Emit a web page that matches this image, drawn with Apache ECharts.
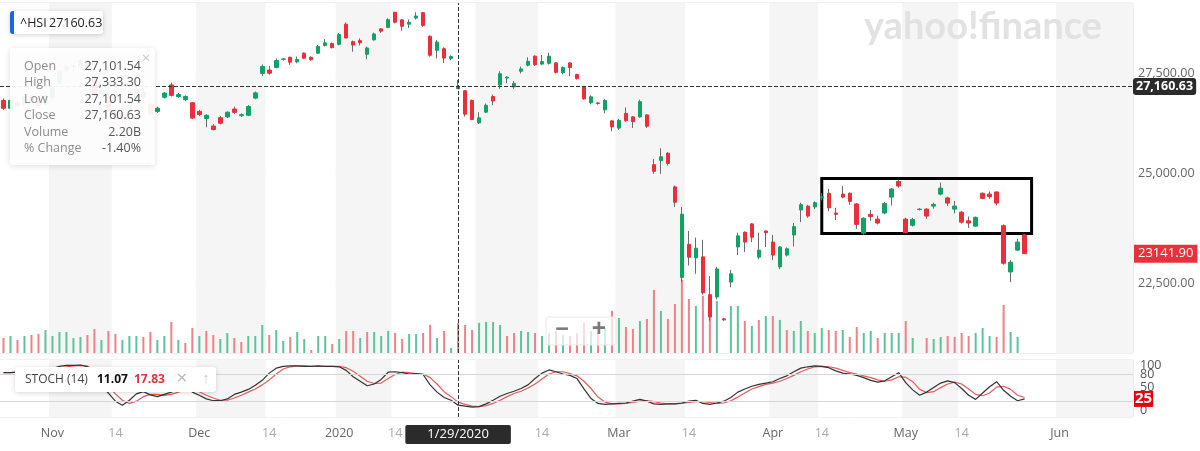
<!DOCTYPE html>
<html>
<head>
<meta charset="utf-8">
<title>^HSI</title>
<script src="https://cdn.jsdelivr.net/npm/echarts@6/dist/echarts.min.js"></script>
<style>
  html, body { margin: 0; padding: 0; background: #fff; }
  #chart { width: 1200px; height: 451px; }
</style>
</head>
<body>
<div id="chart"></div>
<script>
// trading days (HK) shown on the chart, then a few empty future days
var dates = [
  '2019-10-23','2019-10-24','2019-10-25','2019-10-28','2019-10-29','2019-10-30','2019-10-31',
  '2019-11-01','2019-11-04','2019-11-05','2019-11-06','2019-11-07','2019-11-08','2019-11-11','2019-11-12','2019-11-13','2019-11-14',
  '2019-11-15','2019-11-18','2019-11-19','2019-11-20','2019-11-21','2019-11-22','2019-11-25','2019-11-26','2019-11-27','2019-11-28','2019-11-29',
  '2019-12-02','2019-12-03','2019-12-04','2019-12-05','2019-12-06','2019-12-09','2019-12-10','2019-12-11','2019-12-12','2019-12-13',
  '2019-12-16','2019-12-17','2019-12-18','2019-12-19','2019-12-20','2019-12-23','2019-12-24','2019-12-27','2019-12-30','2019-12-31',
  '2020-01-02','2020-01-03','2020-01-06','2020-01-07','2020-01-08','2020-01-09','2020-01-10','2020-01-13','2020-01-14','2020-01-15',
  '2020-01-16','2020-01-17','2020-01-20','2020-01-21','2020-01-22','2020-01-23','2020-01-24','2020-01-29','2020-01-30','2020-01-31',
  '2020-02-03','2020-02-04','2020-02-05','2020-02-06','2020-02-07','2020-02-10','2020-02-11','2020-02-12','2020-02-13','2020-02-14',
  '2020-02-17','2020-02-18','2020-02-19','2020-02-20','2020-02-21','2020-02-24','2020-02-25','2020-02-26','2020-02-27','2020-02-28',
  '2020-03-02','2020-03-03','2020-03-04','2020-03-05','2020-03-06','2020-03-09','2020-03-10','2020-03-11','2020-03-12','2020-03-13',
  '2020-03-16','2020-03-17','2020-03-18','2020-03-19','2020-03-20','2020-03-23','2020-03-24','2020-03-25','2020-03-26','2020-03-27',
  '2020-03-30','2020-03-31',
  '2020-04-01','2020-04-02','2020-04-03','2020-04-06','2020-04-07','2020-04-08','2020-04-09','2020-04-14','2020-04-15','2020-04-16',
  '2020-04-17','2020-04-20','2020-04-21','2020-04-22','2020-04-23','2020-04-24','2020-04-27','2020-04-28','2020-04-29',
  '2020-05-04','2020-05-05','2020-05-06','2020-05-07','2020-05-08','2020-05-11','2020-05-12','2020-05-13','2020-05-14','2020-05-15',
  '2020-05-18','2020-05-19','2020-05-20','2020-05-21','2020-05-22','2020-05-25','2020-05-26','2020-05-27',
  '2020-05-28','2020-05-29','2020-05-30','2020-05-31','2020-06-01','2020-06-02','2020-06-03','2020-06-04','2020-06-05',
  '2020-06-06','2020-06-07','2020-06-08','2020-06-09','2020-06-10','2020-06-11'
];

var opens = [
  26800,26600,26750,26700,26900,26760,26700,26880,27250,27600,27700,27700,27850,27400,26950,26900,26550,26350,26500,26800,
  27000,26700,26520,26880,27200,26900,26820,26740,26520,26340,26150,26360,26380,26580,26410,26420,26860,27500,27590,27660,
  27880,27930,27810,28040,27930,28040,28250,28300,28280,28830,28350,28380,28010,28400,28700,28740,29160,28950,28830,29000,
  29150,28500,28120,28160,27900,27101.54,27050,26800,26230,26500,26900,27200,27380,27150,27560,27720,27960,27750,27770,27780,
  27520,27780,27470,27150,26740,26735,26560,26280,26100,26470,26380,26380,26430,25200,25300,25480,24670,22620,23350,23050,
  23070,22250,22200,21740,22520,23290,23620,23810,23065,23650,23400,22850,23110,23560,24130,24220,24200,24410,24520,24060,
  24500,24520,24270,23600,24030,23920,24060,24430,24800,23920,23780,24140,24150,24220,24500,24410,24150,24080,23880,23760,
  24520,24500,24550,23770,22740,23220,23560
];
var closes = [
  26600,26800,26667,26891,26786,26667,26906,27100,27547,27680,27688,27847,27651,26926,27065,26571,26323,26326,26681,27093,
  26889,26467,26600,26990,26930,26950,26900,26350,26440,26420,26062,26220,26498,26494,26436,26645,26994,27688,27508,27843,
  27884,27800,27871,27906,27864,28225,28319,28189,28543,28452,28260,28322,28180,28561,28638,28955,28885,28773,28883,29056,
  28795,27985,28341,27909,27950,27160.63,26449,26313,26356,26675,26786,27493,27404,27241,27620,27823,27730,27815,27959,27530,
  27656,27655,27370,26840,26893,26720,26800,26129,26291,26285,26260,26767,26146,25040,25392,25231,24309,24032,23063,23263,
  22291,21780,22805,21720,22700,23540,23400,23510,23220,23610,23110,23290,23250,23749,24253,23990,24300,24435,24180,24030,
  24430,24330,23800,23940,23977,23831,24280,24620,24690,23613,23910,24150,23990,24260,24640,24290,24220,23850,23830,23960,
  24400,24440,24290,22930,22952,23400,23141.90
];
var lows = [
  26560,26580,26600,26680,26740,26600,26680,26800,27230,27520,27550,27650,27600,26900,26850,26500,26300,26200,26450,26780,
  26850,26400,26480,26850,26900,26870,26780,26330,26400,26120,26040,26190,26350,26460,26380,26400,26830,27430,27470,27640,
  27840,27730,27770,27880,27840,28020,28220,28170,28250,28440,28080,28250,27880,28380,28590,28720,28850,28650,28720,28960,
  28760,27950,27900,27780,27850,27101.54,26390,26300,26200,26480,26680,27100,27250,27100,27500,27690,27700,27720,27740,27500,
  27480,27430,27340,26820,26700,26690,26470,26020,26050,26260,26100,26360,26100,24980,24980,25180,24200,22520,22880,22700,
  22250,21700,22150,21700,22410,23110,23180,23400,23020,23290,23000,22800,23080,23300,23850,23950,24150,24350,24100,23900,
  24400,24250,23700,23560,23880,23800,24030,24230,24650,23600,23750,24120,23930,24160,24470,24220,24050,23820,23720,23740,
  24380,24390,24240,22900,22520,23200,23130
];
var highs = [
  26850,26830,26800,26920,26950,26800,26950,27150,27600,27720,27750,27880,27900,27450,27150,26950,26600,26450,26750,27150,
  27100,26750,26640,27020,27260,26990,26930,26760,26560,26450,26200,26400,26520,26640,26470,26680,27030,27740,27700,27900,
  27910,27950,27950,28060,27960,28260,28420,28330,28590,28880,28380,28440,28220,28600,28720,28990,29174,28970,28960,29160,
  29170,28520,28400,28200,27980,27333.30,27060,26820,26500,26720,26950,27560,27430,27300,27680,27930,27980,27990,28050,27800,
  27690,27800,27490,27160,26930,26760,26830,26300,26330,26620,26400,26820,26450,25340,25600,25500,24700,24200,23650,23500,
  23450,22650,22850,21760,22780,23610,23640,23830,23610,23660,23560,23310,23280,23830,24300,24250,24330,24520,24620,24180,
  24690,24540,24290,23960,24130,24000,24320,24640,24830,23950,23950,24170,24170,24300,24770,24440,24340,24100,23980,23980,
  24540,24560,24560,23800,23000,23470,23580
];
// volume in billions
var volumes = [
  1.10,1.25,0.96,1.25,1.32,1.40,1.69,1.25,1.54,1.54,1.10,1.18,1.32,1.76,0.96,1.62,1.40,0.96,1.25,1.25,
  1.18,1.54,0.96,1.25,2.28,0.96,0.74,1.84,1.25,1.62,1.32,1.03,1.47,1.10,0.81,1.25,1.25,2.06,1.32,1.69,
  0.88,1.18,1.54,1.03,0.22,1.25,1.25,0.66,1.03,1.62,1.62,1.10,1.54,1.54,1.25,1.62,1.47,1.03,1.40,1.40,
  1.47,2.06,1.10,1.62,0.37,2.20,2.06,1.69,2.21,2.28,2.28,2.06,1.25,1.47,1.62,1.54,1.47,1.25,1.47,1.62,
  1.32,1.25,1.47,2.21,1.62,1.47,1.84,3.09,2.57,1.91,1.76,2.35,2.50,4.63,3.09,2.50,3.60,5.37,3.97,3.46,
  4.19,4.26,3.82,0,3.46,3.46,2.35,1.99,2.43,2.72,2.72,2.43,1.69,1.62,2.35,1.62,1.47,1.84,1.69,1.62,
  1.69,1.18,1.91,1.47,1.62,1.10,1.47,1.47,1.47,2.35,1.10,0,1.10,1.03,1.18,1.25,1.18,1.47,1.25,1.47,
  1.84,1.25,1.18,3.53,1.54,1.18,0
];
// STOCH (14): %K (dark) and %D (red)
var stochK = [
  83,83,84,86,85,84,88,92,97,99, 99,100,96,70,52,38,20,11,22,36, 41,34,30,35,40,46,50,40,33,25,
  21,21,25,35,40,46,55,66,82,93, 97,98,98,97,97,98,97,97,96,88, 74,64,54,58,68,84,85,83,80,81,
  79,56,40,28,22,11.07,9,7,8,14, 22,31,37,42,48,56,70,82,89,85, 80,77,70,47,26,15,13,14,15,16,
  20,24,20,14,13,14,14,16,20,22, 15,13,16,20,28,40,47,53,57,60, 63,70,76,85,93,96,98,97,94,87,
  82,80,77,72,66,62,65,74,83,61, 45,33,40,50,60,65,61,48,33,24, 38,52,63,44,31,21,25
];
var stochD = [
  83,83,84,85,85,85,86,88,92,96, 98,99,98,88,72,53,36,22,15,20, 30,35,35,33,35,40,45,45,41,33,
  27,22,22,27,33,40,47,56,67,80, 91,96,98,98,97,97,97,97,97,94, 86,75,64,59,60,70,79,84,83,81,
  80,72,58,41,30,17.83,13,9,8,10, 15,22,30,37,42,49,58,69,80,85, 85,81,76,64,48,29,18,14,14,15,
  17,20,21,19,16,14,14,15,17,19, 19,17,15,16,21,29,38,47,52,57, 60,64,70,77,85,91,96,97,96,93,
  88,83,80,76,72,67,64,67,74,73, 63,46,39,41,50,58,62,58,47,35, 32,38,51,53,46,33,28
];

var tickDates = ['2019-11-01','2019-11-14','2019-12-02','2019-12-16','2020-01-02','2020-01-14','2020-02-03','2020-02-14',
  '2020-03-02','2020-03-16','2020-04-01','2020-04-14','2020-05-04','2020-05-14','2020-06-01'];
var tickNames = ['Nov','14','Dec','14','2020','14','Feb','14','Mar','14','Apr','14','May','14','Jun'];
var priceTicks = [22500, 25000, 27500];
var stochTicks = [0, 50, 100];
var stochTicks2 = [80];   // sits on top of 100, so it goes on its own axis
var stochBands = [20, 80];

var crossDate = '2020-01-29';
var crossPrice = 27160.63;
var pctChange = '-1.40%';
// hand drawn box on the chart
var boxFrom = '2020-04-14', boxTo = '2020-05-28', boxTop = 24870, boxBottom = 23590;

var UP = '#11a265', DOWN = '#ea2f3b';
var VOL_UP = '#5cc49a', VOL_DOWN = '#f08089';
var FONT = 'Open Sans';

function fmt(n) {
  return n.toLocaleString('en-US', { minimumFractionDigits: 2, maximumFractionDigits: 2 });
}
function isTick(index, value) {
  return tickDates.indexOf(value) >= 0;
}

var wickData = [], bodyData = [], volData = [];
for (var i = 0; i < closes.length; i++) {
  wickData.push([opens[i], closes[i], lows[i], highs[i]]);
  bodyData.push([opens[i], closes[i], Math.min(opens[i], closes[i]), Math.max(opens[i], closes[i])]);
  // volume is coloured by the change from the previous close
  var up = i === 0 ? closes[i] >= opens[i] : closes[i] >= closes[i - 1];
  volData.push({ value: volumes[i], itemStyle: { color: up ? VOL_UP : VOL_DOWN } });
}
var last = closes.length - 1;
var ci = dates.indexOf(crossDate);

var splitArea = { show: true, interval: isTick, areaStyle: { color: ['#ffffff', '#f5f5f5'] } };
var pointerLine = { type: 'dashed', color: '#333', width: 1 };

var rows = [
  ['Open', fmt(opens[ci])],
  ['High', fmt(highs[ci])],
  ['Low', fmt(lows[ci])],
  ['Close', fmt(closes[ci])],
  ['Volume', volumes[ci].toFixed(2) + 'B'],
  ['% Change', pctChange]
];

var graphics = [
  // watermark
  { type: 'text', x: 864, y: 27, z: 1, silent: true,
    style: { text: 'yahoo!finance', fill: '#e2e2e2', fontSize: 38, fontWeight: 'bold', fontFamily: 'Lato', verticalAlign: 'middle' } },
  // ticker chip
  { type: 'rect', z: 100, shape: { x: 10, y: 11, width: 93, height: 23, r: 3 },
    style: { fill: '#fff', shadowBlur: 5, shadowColor: 'rgba(0,0,0,0.18)', shadowOffsetY: 1 } },
  { type: 'rect', z: 101, shape: { x: 10, y: 11, width: 4, height: 23, r: [3, 0, 0, 3] }, style: { fill: '#1967e6' } },
  { type: 'text', z: 101, x: 20, y: 23, style: { text: '^HSI', fill: '#222', fontSize: 12.5, fontFamily: FONT, verticalAlign: 'middle' } },
  { type: 'text', z: 101, x: 49, y: 23, style: { text: closes[ci].toFixed(2), fill: '#222', fontSize: 12.5, fontFamily: FONT, verticalAlign: 'middle' } },
  // OHLC box
  { type: 'rect', z: 100, shape: { x: 10, y: 48, width: 145, height: 117, r: 3 },
    style: { fill: 'rgba(255,255,255,0.93)', shadowBlur: 6, shadowColor: 'rgba(0,0,0,0.15)', shadowOffsetY: 1 } },
  { type: 'text', z: 101, x: 146, y: 59, style: { text: '\u00d7', fill: '#c8c8c8', fontSize: 15, fontFamily: FONT, align: 'center', verticalAlign: 'middle' } },
  // zoom buttons
  { type: 'rect', z: 100, shape: { x: 546, y: 317, width: 70, height: 28, r: 2 },
    style: { fill: 'rgba(255,255,255,0.72)', stroke: '#e8e8e8', lineWidth: 1 } },
  { type: 'text', z: 101, x: 562, y: 330, style: { text: '\u2212', fill: '#7a7a7a', fontSize: 24, fontWeight: 'bold', fontFamily: FONT, align: 'center', verticalAlign: 'middle' } },
  { type: 'text', z: 101, x: 599, y: 330, style: { text: '+', fill: '#7a7a7a', fontSize: 25, fontWeight: 'bold', fontFamily: FONT, align: 'center', verticalAlign: 'middle' } },
  // STOCH legend
  { type: 'rect', z: 100, shape: { x: 15, y: 367, width: 201, height: 25, r: 3 },
    style: { fill: '#fff', shadowBlur: 5, shadowColor: 'rgba(0,0,0,0.16)', shadowOffsetY: 1 } },
  { type: 'text', z: 101, x: 25, y: 380, style: { text: 'STOCH (14)', fill: '#444', fontSize: 12, fontFamily: FONT, verticalAlign: 'middle' } },
  { type: 'text', z: 101, x: 97, y: 380, style: { text: stochK[ci].toFixed(2), fill: '#111', fontSize: 12, fontWeight: 'bold', fontFamily: FONT, verticalAlign: 'middle' } },
  { type: 'text', z: 101, x: 134, y: 380, style: { text: stochD[ci].toFixed(2), fill: '#e0313c', fontSize: 12, fontWeight: 'bold', fontFamily: FONT, verticalAlign: 'middle' } },
  { type: 'text', z: 101, x: 182, y: 379, style: { text: '\u00d7', fill: '#b5b5b5', fontSize: 19, fontFamily: FONT, align: 'center', verticalAlign: 'middle' } },
  { type: 'text', z: 101, x: 206, y: 379, style: { text: '\u2191', fill: '#cfcfcf', fontSize: 15, fontFamily: FONT, align: 'center', verticalAlign: 'middle' } }
];
for (var r = 0; r < rows.length; r++) {
  var ry = 66 + r * 16.5;
  graphics.push({ type: 'text', z: 101, x: 24, y: ry, style: { text: rows[r][0], fill: '#8c8c8c', fontSize: 12.5, fontFamily: FONT, verticalAlign: 'middle' } });
  graphics.push({ type: 'text', z: 101, x: 141, y: ry, style: { text: rows[r][1], fill: '#555', fontSize: 12.5, fontFamily: FONT, align: 'right', verticalAlign: 'middle' } });
}

function stochAxis(ticks) {
  return { type: 'value', gridIndex: 1, position: 'right', min: -15, max: 111,
    axisLine: { show: false }, axisTick: { show: false },
    axisLabel: { customValues: ticks, hideOverlap: false, showMinLabel: true, showMaxLabel: true,
      color: '#555', fontSize: 12.5, margin: 7 },
    splitLine: { show: false } };
}

var chart = echarts.init(document.getElementById('chart'));
chart.setOption({
  animation: false,
  backgroundColor: '#fff',
  textStyle: { fontFamily: FONT },
  grid: [
    { left: -2, right: 67, top: 3, height: 350, show: true, borderColor: '#e2e2e2', borderWidth: 1, backgroundColor: 'transparent' },
    { left: -2, right: 67, top: 360, height: 57, show: true, borderColor: '#e2e2e2', borderWidth: 1, backgroundColor: 'transparent' }
  ],
  xAxis: [
    { type: 'category', gridIndex: 0, data: dates, boundaryGap: true,
      axisLine: { show: false }, axisTick: { show: false }, axisLabel: { show: false },
      splitArea: splitArea,
      axisPointer: { show: true, value: crossDate, status: 'show', type: 'line', triggerTooltip: false,
        lineStyle: pointerLine, label: { show: false } } },
    { type: 'category', gridIndex: 1, data: dates, boundaryGap: true,
      axisLine: { show: false }, axisTick: { show: false },
      axisLabel: { interval: isTick, hideOverlap: false, margin: 10,
        formatter: function (v) {
          var k = tickDates.indexOf(v);
          if (k < 0) return '';
          return tickNames[k] === '14' ? '{d|14}' : '{m|' + tickNames[k] + '}';
        },
        rich: { m: { color: '#666', fontSize: 12.5, fontFamily: FONT }, d: { color: '#aaa', fontSize: 12.5, fontFamily: FONT } } },
      splitArea: splitArea,
      axisPointer: { show: true, value: crossDate, status: 'show', type: 'line', triggerTooltip: false,
        lineStyle: pointerLine,
        label: { show: true, margin: 8, backgroundColor: '#2b2b2b', color: '#fff', fontSize: 13, fontFamily: FONT,
          padding: [3, 22, 3, 22], borderRadius: 2, shadowBlur: 0,
          formatter: function (p) { var d = p.value.split('-'); return (+d[1]) + '/' + (+d[2]) + '/' + d[0]; } } } }
  ],
  yAxis: [
    { type: 'log', logBase: 10, gridIndex: 0, position: 'right', min: 21041, max: 29421,
      axisLine: { show: false }, axisTick: { show: false, customValues: priceTicks },
      axisLabel: { customValues: priceTicks, formatter: function (v) { return fmt(v); }, color: '#666', fontSize: 12.5, margin: 5 },
      splitLine: { show: true, lineStyle: { color: '#ebebeb' } },
      axisPointer: { show: true, value: crossPrice, status: 'show', type: 'line', triggerTooltip: false,
        lineStyle: pointerLine,
        label: { show: true, margin: 0, backgroundColor: '#2b2b2b', color: '#fff', fontSize: 12.5, fontWeight: 'bold',
          padding: [2, 3, 2, 3], shadowBlur: 0, formatter: function (p) { return fmt(+p.value); } } } },
    { type: 'value', gridIndex: 0, min: 0, max: 25.7, show: false, splitLine: { show: false } },
    stochAxis(stochTicks),
    stochAxis(stochTicks2)
  ],
  series: [
    { name: 'vol', type: 'bar', xAxisIndex: 0, yAxisIndex: 1, data: volData, barWidth: 2, z: 1, silent: true },
    { name: 'wick', type: 'candlestick', xAxisIndex: 0, yAxisIndex: 0, data: wickData, barWidth: 1, z: 3, silent: true,
      itemStyle: { color: '#6a6a6a', color0: '#6a6a6a', borderColor: '#6a6a6a', borderColor0: '#6a6a6a', borderColorDoji: '#6a6a6a', borderWidth: 1 } },
    { name: '^HSI', type: 'candlestick', xAxisIndex: 0, yAxisIndex: 0, data: bodyData, barWidth: 4, z: 4, silent: true,
      itemStyle: { color: UP, color0: DOWN, borderColor: UP, borderColor0: DOWN, borderWidth: 1 },
      markArea: { silent: true, itemStyle: { color: 'rgba(0,0,0,0)', borderColor: '#000', borderWidth: 3 },
        data: [[{ xAxis: boxFrom, yAxis: boxTop }, { xAxis: boxTo, yAxis: boxBottom }]] },
      markLine: { silent: true, symbol: ['none', 'none'], lineStyle: { color: 'rgba(0,0,0,0)' },
        label: { position: 'end', distance: 1, formatter: closes[last].toFixed(2), backgroundColor: '#e8313c', color: '#fff',
          fontSize: 13, padding: [3, 4, 2, 4] },
        data: [{ yAxis: closes[last] }] } },
    { name: '%K', type: 'line', xAxisIndex: 1, yAxisIndex: 2, data: stochK, symbol: 'none', z: 3, silent: true,
      lineStyle: { color: '#333', width: 1.2 },
      markLine: { silent: true, symbol: ['none', 'none'], label: { show: false }, lineStyle: { color: '#d6d6d6', width: 1, type: 'solid' },
        data: stochBands.map(function (v) { return { yAxis: v }; }) } },
    { name: '%D', type: 'line', xAxisIndex: 1, yAxisIndex: 2, data: stochD, symbol: 'none', z: 2, silent: true,
      lineStyle: { color: '#e55a60', width: 1.2 },
      markLine: { silent: true, symbol: ['none', 'none'], lineStyle: { color: 'rgba(0,0,0,0)' },
        label: { position: 'end', distance: 1, formatter: String(Math.round(stochK[last])), backgroundColor: '#e8000d', color: '#fff',
          fontSize: 15, fontWeight: 'bold', padding: [1, 1, 0, 1] },
        data: [{ yAxis: stochK[last] }] } }
  ],
  graphic: graphics
});
</script>
</body>
</html>
